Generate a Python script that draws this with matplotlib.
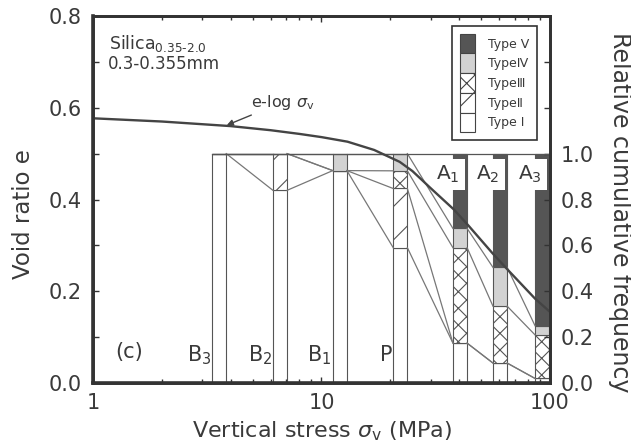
import numpy as np
import matplotlib
matplotlib.use("Agg")
import matplotlib.pyplot as plt
from matplotlib.patches import Patch
from matplotlib.ticker import MultipleLocator, FixedLocator, NullFormatter, FixedFormatter

plt.rcParams['font.family'] = ['DejaVu Sans']
plt.rcParams['hatch.color'] = '#555555'
plt.rcParams['hatch.linewidth'] = 0.8

# e - log sigma_v curve (left axis)
stress = [1, 2, 4, 6, 8, 10, 13, 17, 22, 25, 30, 38, 44, 56, 65, 86, 100]
void_ratio = [0.577, 0.570, 0.560, 0.551, 0.543, 0.536, 0.526, 0.508, 0.482,
              0.462, 0.425, 0.378, 0.343, 0.283, 0.248, 0.184, 0.155]

# particle breakage columns (right axis, relative frequency per type)
col_names = ['B$_3$', 'B$_2$', 'B$_1$', 'P', 'A$_1$', 'A$_2$', 'A$_3$']
col_left = [3.32, 6.13, 11.2, 20.6, 37.6, 56.3, 86.0]
type_1 = [1.0, 0.84, 0.926, 0.59, 0.174, 0.087, 0.02]
type_2 = [0.0, 0.16, 0.0, 0.258, 0.0, 0.0, 0.0]
type_3 = [0.0, 0.0, 0.0, 0.077, 0.416, 0.248, 0.19]
type_4 = [0.0, 0.0, 0.074, 0.075, 0.084, 0.169, 0.04]
type_5 = [0.0, 0.0, 0.0, 0.0, 0.326, 0.496, 0.75]
type_labels = ['Type \u2160', 'Type\u2161', 'Type\u2162', 'Type\u2163', 'Type V']

col_factor = 10 ** 0.062  # column width in log space
txt = '#3a3a3a'
edge = '#555555'
styles = [('white', ''), ('white', '/'), ('white', 'xx'), ('#d2d2d2', ''), ('#555555', '')]

fig = plt.figure(figsize=(6.31, 4.43), dpi=100)
ax = fig.add_axes([0.1474, 0.1354, 0.7242, 0.8285])
ax2 = ax.twinx()

left = np.array(col_left)
width = left * (col_factor - 1)
right = left + width
fracs = np.array([type_1, type_2, type_3, type_4, type_5])
cum = np.vstack([np.zeros(len(left)), np.cumsum(fracs, axis=0)])

# stacked columns
for k in range(5):
    fc, hatch = styles[k]
    ax2.bar(left, fracs[k], width=width, bottom=cum[k], align='edge',
            color=fc, edgecolor=edge, hatch=hatch, linewidth=0.8, zorder=1)

# lines joining the type boundaries of neighbouring columns
for i in range(len(left) - 1):
    for k in range(1, 5):
        ax2.plot([right[i], left[i + 1]], [cum[k][i], cum[k][i + 1]],
                 color='#777777', lw=0.9, zorder=2)
ax2.plot([left[0], 100], [1.0, 1.0], color=edge, lw=0.9, zorder=2)

# column labels
for i, name in enumerate(col_names):
    if name.startswith('A'):
        ax2.text(left[i] * 1.07, 0.91, name, ha='right', va='center', fontsize=14.5,
                 color=txt, zorder=3,
                 bbox=dict(boxstyle='square,pad=0.25', fc='white', ec='none'))
    else:
        ax2.text(left[i] * 0.99, 0.12, name, ha='right', va='center', fontsize=15,
                 color=txt, zorder=3)

ax2.set_ylim(0, 1.6)
ax2.yaxis.set_major_locator(FixedLocator([0, 0.2, 0.4, 0.6, 0.8, 1.0, 1.2, 1.4]))
ax2.yaxis.set_major_formatter(FixedFormatter(['0.0', '0.2', '0.4', '0.6', '0.8', '1.0', '', '']))
ax2.tick_params(axis='y', direction='in', length=4, width=1, labelsize=15,
                labelcolor=txt, color='#333333', pad=8)

# e-log curve on top
ax.set_zorder(ax2.get_zorder() + 1)
ax.patch.set_visible(False)
ax.plot(stress, void_ratio, color='#444444', lw=1.7)

ax.set_xscale('log')
ax.set_xlim(1, 100)
ax.set_ylim(0, 0.8)
ax.yaxis.set_major_locator(MultipleLocator(0.2))
ax.yaxis.set_minor_locator(MultipleLocator(0.1))
ax.yaxis.set_major_formatter(matplotlib.ticker.FormatStrFormatter('%.1f'))
ax.xaxis.set_major_locator(FixedLocator([1, 10, 100]))
ax.xaxis.set_major_formatter(FixedFormatter(['1', '10', '100']))
ax.xaxis.set_minor_formatter(NullFormatter())
ax.tick_params(which='both', direction='in', top=True, right=False, length=4,
               width=1, labelsize=15, labelcolor=txt, color='#333333')
ax.tick_params(axis='y', pad=8)
ax.tick_params(axis='x', pad=7)
ax.tick_params(axis='x', which='minor', length=3)

for a in (ax, ax2):
    for s in a.spines.values():
        s.set_color('#333333')
        s.set_linewidth(2.0)
ax.spines['left'].set_linewidth(2.6)
ax.spines['bottom'].set_linewidth(2.6)

# annotations
ax.text(0.035, 0.925, 'Silica$_{0.35\u20102.0}$', transform=ax.transAxes, fontsize=12.5,
        color=txt, va='center')
ax.text(0.032, 0.868, '0.3-0.355mm', transform=ax.transAxes, fontsize=12,
        color=txt, va='center')
ax.annotate(r'e-log $\sigma_{\rm v}$', xy=(3.85, 0.562), xytext=(4.9, 0.612),
            fontsize=11.5, color=txt, va='center', ha='left',
            arrowprops=dict(arrowstyle='-|>', color='#444444', lw=1.0,
                            shrinkA=1, shrinkB=0, mutation_scale=9))
ax.text(0.048, 0.085, '(c)', transform=ax.transAxes, fontsize=15, color=txt, va='center')

# legend
handles = [Patch(facecolor=styles[k][0], hatch=styles[k][1], edgecolor='#444444',
                 linewidth=0.8, label=type_labels[k]) for k in range(4, -1, -1)]
leg = ax.legend(handles=handles, loc='upper right', bbox_to_anchor=(0.972, 0.972),
                borderaxespad=0, fontsize=9, handlelength=1.2, handleheight=2.05,
                labelspacing=0, handletextpad=1.1, borderpad=0.6, fancybox=False,
                framealpha=1, edgecolor='#333333')
leg.get_frame().set_linewidth(1.2)
for t in leg.get_texts():
    t.set_color(txt)

# axis titles
fig.text(24 / 631, 1 - 214 / 443, 'Void ratio e', rotation=90, ha='center', va='center',
         fontsize=16.5, color=txt)
fig.text(620 / 631, 1 - 212 / 443, 'Relative cumulative frequency', rotation=270,
         ha='center', va='center', fontsize=17, color=txt)
fig.text(322 / 631, 1 - 431 / 443, r'Vertical stress $\sigma_{\rm v}$ (MPa)', ha='center',
         va='center', fontsize=16, color=txt)

fig.savefig('out.png', dpi=100)
